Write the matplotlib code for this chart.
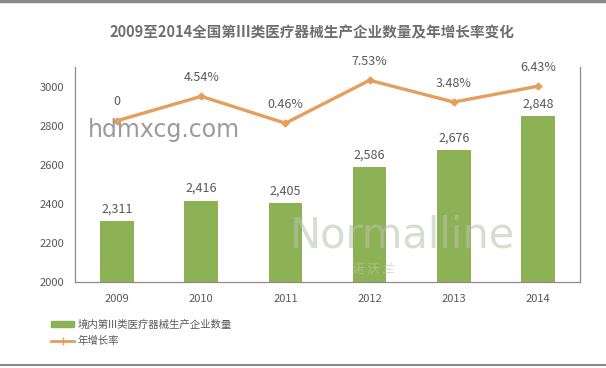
import matplotlib
matplotlib.use("Agg")
import matplotlib.pyplot as plt
from matplotlib.lines import Line2D
from matplotlib.patches import Patch

plt.rcParams['font.family'] = ['Noto Sans CJK SC', 'DejaVu Sans']

years = ['2009', '2010', '2011', '2012', '2013', '2014']
companies = [2311, 2416, 2405, 2586, 2676, 2848]
growth = [0, 4.54, -0.46, 7.53, 3.48, 6.43]
growth_labels = ['0', '4.54%', '0.46%', '7.53%', '3.48%', '6.43%']
title = '2009至2014全国第III类医疗器械生产企业数量及年增长率变化'
bar_name = '境内第III类医疗器械生产企业数量'
line_name = '年增长率'

GREEN = '#8DB255'
ORANGE = '#E59E5C'
GRAY = '#595959'
AXC = '#8C8C8C'

W, H = 606, 368
fig = plt.figure(figsize=(W / 100, H / 100), dpi=100)
fig.patch.set_facecolor('white')

ax = fig.add_axes([75 / W, 1 - 282 / H, (580 - 75) / W, (282 - 67) / H])
x = list(range(len(years)))
bars = ax.bar(x, companies, width=0.4, color=GREEN, zorder=2)
ax.set_xlim(-0.5, 5.5)
ax.set_ylim(2000, 3100)
ax.set_yticks([2000, 2200, 2400, 2600, 2800, 3000])
ax.set_xticks(x)
ax.set_xticklabels(years)
ax.tick_params(axis='both', length=0, colors=GRAY, labelsize=8)
ax.tick_params(axis='x', pad=9)
ax.tick_params(axis='y', pad=8)
for s in ['top', 'right']:
    ax.spines[s].set_visible(False)
for s in ['left', 'bottom']:
    ax.spines[s].set_color(AXC)
    ax.spines[s].set_linewidth(0.9)

for xi, v in zip(x, companies):
    ax.annotate(f'{v:,}', (xi, v), xytext=(0, 4), textcoords='offset points',
                ha='center', va='bottom', fontsize=9, color=GRAY)

ax2 = ax.twinx()
ax2.set_ylim(-30, 10)
ax2.plot(x, growth, color=ORANGE, lw=2.4, marker='D', ms=3.5, zorder=3)
ax2.set_yticks([])
for s in ['top', 'left', 'bottom']:
    ax2.spines[s].set_visible(False)
ax2.spines['right'].set_color(AXC)
ax2.spines['right'].set_linewidth(0.9)
for xi, v, lab in zip(x, growth, growth_labels):
    ax2.annotate(lab, (xi, v), xytext=(0, 9), textcoords='offset points',
                 ha='center', va='bottom', fontsize=9, color=GRAY)

fig.text(312 / W, 1 - 32 / H, title, ha='center', va='center',
         fontsize=10.5, fontweight='bold', color='#6E6E6E')

# watermarks
fig.text(88 / W, 1 - 130 / H, 'hdmxcg.com', ha='left', va='center',
         fontsize=17, color='#8A8A8A', alpha=0.85, family='DejaVu Sans')
fig.text(290 / W, 1 - 236 / H, 'Normalline', ha='left', va='center',
         fontsize=30, color='#B9C2B0', alpha=0.55, family='DejaVu Sans')
fig.text(352 / W, 1 - 270 / H, '诺 沃 兰', ha='left', va='center',
         fontsize=9, color='#B9C9A8', alpha=0.6)

handles = [Patch(facecolor=GREEN, edgecolor=GREEN),
           Line2D([0], [0], color=ORANGE, lw=2, marker='+', ms=6)]
leg = fig.legend(handles, [bar_name, line_name], loc='upper left',
                 bbox_to_anchor=(42 / W, 1 - 310 / H), frameon=False,
                 fontsize=7.5, handlelength=2.2, handleheight=0.6,
                 labelspacing=0.6, handletextpad=0.3)
for t in leg.get_texts():
    t.set_color(GRAY)

fig.add_artist(Line2D([0, 1], [1 - 1 / H, 1 - 1 / H], color='#8A8A8A', lw=2.5,
                      transform=fig.transFigure))
fig.add_artist(Line2D([0, 1], [1 - 365 / H, 1 - 365 / H], color='#8A8A8A', lw=1.5,
                      transform=fig.transFigure))

fig.savefig('out.png', dpi=100, facecolor='white')
